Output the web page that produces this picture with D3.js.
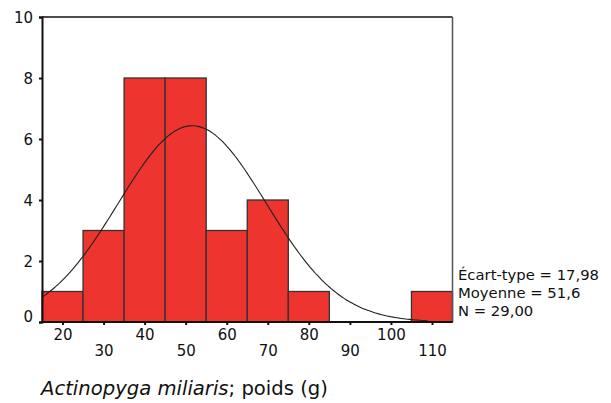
<!DOCTYPE html>
<html><head><meta charset="utf-8">
<script src="https://cdn.jsdelivr.net/npm/d3@7"></script>
<style>body{margin:0;background:#fff}svg{display:block}text{font-family:"DejaVu Sans",sans-serif;fill:#111}</style>
</head><body><svg id="c" width="611" height="403"></svg>
<script>
const binCenters = [20,30,40,50,60,70,80,90,100,110];
const counts = [1,3,8,8,3,4,1,0,0,1];
const yTicks = [0,2,4,6,8,10];
const xTicks = [20,30,40,50,60,70,80,90,100,110];
const stats = ["Écart-type = 17,98","Moyenne = 51,6","N = 29,00"];
const mean = 51.6, sd = 17.98, n = 29, binW = 10;
const title = {italic:"Actinopyga miliaris", rest:"; poids (g)"};
const FONT = "DejaVu Sans";

const svg = d3.select("#c");
const x = d3.scaleLinear().domain([15,115]).range([42,452.5]);
const y = d3.scaleLinear().domain([0,10]).range([322,17]);

// bars
svg.append("g").selectAll("rect").data(binCenters.map((c,i)=>({c,v:counts[i]})).filter(d=>d.v>0))
 .join("rect")
 .attr("x",d=>x(d.c-binW/2)).attr("width",d=>x(d.c+binW/2)-x(d.c-binW/2))
 .attr("y",d=>y(d.v)).attr("height",d=>y(0)-y(d.v))
 .attr("fill","#EE342F").attr("stroke","#333").attr("stroke-width",1.3);

// normal curve
const peak = n*binW/(sd*Math.sqrt(2*Math.PI));
const pts = d3.range(15,109.01,0.5).map(v=>[v, peak*Math.exp(-0.5*((v-mean)/sd)**2)]);
svg.append("path").attr("d",d3.line().x(d=>x(d[0])).y(d=>y(d[1])).curve(d3.curveBasis)(pts))
 .attr("fill","none").attr("stroke","#222").attr("stroke-width",1.1);

// frame
svg.append("line").attr("x1",x(15)).attr("x2",x(115)).attr("y1",y(10)).attr("y2",y(10)).attr("stroke","#111").attr("stroke-width",1.3);
svg.append("line").attr("x1",x(115)).attr("x2",x(115)).attr("y1",y(10)).attr("y2",y(0)).attr("stroke","#555").attr("stroke-width",1.5);

// y axis
const ya = svg.append("g").attr("transform",`translate(${x(15)},0)`)
 .call(d3.axisLeft(y).tickValues(yTicks).tickSize(3).tickPadding(6));
ya.select(".domain").attr("stroke","#111").attr("stroke-width",2);
ya.selectAll(".tick line").attr("stroke","#111").attr("stroke-width",2);
ya.selectAll("text").attr("font-size",15).attr("font-family",FONT).attr("fill","#111")
 .attr("dy",d=> d===0 ? "-0.02em" : "0.35em");

// x axis
const xa = svg.append("g").attr("transform",`translate(0,${y(0)})`)
 .call(d3.axisBottom(x).tickValues(xTicks).tickSize(3).tickFormat(d3.format("d")));
xa.select(".domain").attr("stroke","#111").attr("stroke-width",2).attr("d",`M${x(15)},0H${x(115)}`);
xa.selectAll(".tick line").attr("stroke","#111").attr("stroke-width",2);
xa.selectAll("text").attr("font-size",15).attr("font-family",FONT).attr("fill","#111")
 .attr("y",(d,i)=> i%2===0 ? 18 : 33.5).attr("dy",0);

// stats
svg.append("g").selectAll("text").data(stats).join("text")
 .attr("x",458).attr("y",(d,i)=>279.5+i*18).attr("font-size",14.8).attr("font-family",FONT).text(d=>d);

// title
const t = svg.append("text").attr("x",41).attr("y",395).attr("font-size",19.6).attr("font-family",FONT);
t.append("tspan").attr("font-style","italic").text(title.italic);
t.append("tspan").text(title.rest);
</script></body></html>
